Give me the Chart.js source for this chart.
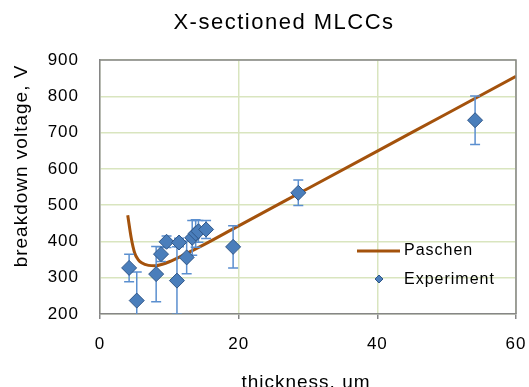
<!DOCTYPE html>
<html>
<head>
<meta charset="utf-8">
<script src="https://cdn.jsdelivr.net/npm/chart.js@4.4.1/dist/chart.umd.min.js"></script>
<style>
  html, body { margin: 0; padding: 0; background: #fff; }
  #wrap { width: 529px; height: 387px; }
</style>
</head>
<body>
<div id="wrap"><canvas id="myChart" width="529" height="387"></canvas></div>
<script>
// Paschen curve
const paschenX = [4.0, 4.5, 5.0, 5.5, 6, 7, 8, 9, 10, 12, 15, 20, 30, 40, 50, 60];
const paschenY = [472, 410, 368, 350, 341, 334, 333, 337, 344, 362, 391, 443, 546, 649, 752, 855];

// measured breakdown points with error bars
const expX = [4.2, 5.3, 8.1, 8.8, 9.6, 11.1, 11.4, 12.5, 13.3, 13.8, 14.2, 15.3, 19.2, 28.6, 54.1];
const expY = [327, 237, 310, 365, 399, 292, 397, 356, 410, 422, 428, 433, 385, 534, 734];
const expErr = [38, 79, 76, 20, 16, 93, 12, 45, 48, 38, 30, 25, 58, 35, 67];

const xTicks = [0, 20, 40, 60];
const yTicks = [200, 300, 400, 500, 600, 700, 800, 900];

const FONT = "'Liberation Sans', Arial, sans-serif";
const lineColor = "#a4520c";
const pointFill = "#4a7ebb";
const pointEdge = "#2f5688";
const barColor = "#5b8fcf";
const gridColor = "#d9e5bf";
const axisColor = "#868686";

var ctx = document.getElementById("myChart");

// error bars, drawn before the diamonds
const errorBars = {
  id: "errorBars",
  beforeDatasetDraw(chart, args) {
    if (args.index !== 0) return;
    const c = chart.ctx;
    const xs = chart.scales.x, ys = chart.scales.y;
    const a = chart.chartArea;
    c.save();
    c.beginPath();
    c.rect(a.left, a.top, a.right - a.left, a.bottom - a.top);
    c.clip();
    c.strokeStyle = barColor;
    c.lineWidth = 1.5;
    for (let i = 0; i < expX.length; i++) {
      const px = xs.getPixelForValue(expX[i]);
      const top = ys.getPixelForValue(expY[i] + expErr[i]);
      const bot = ys.getPixelForValue(expY[i] - expErr[i]);
      c.beginPath();
      c.moveTo(px, top); c.lineTo(px, bot);
      c.moveTo(px - 5, top); c.lineTo(px + 5, top);
      c.moveTo(px - 5, bot); c.lineTo(px + 5, bot);
      c.stroke();
    }
    c.restore();
  }
};

// title, frame, axis titles and the in-plot legend
const decorations = {
  id: "decorations",
  beforeDraw(chart) {
    chart.ctx.letterSpacing = "1px";
  },
  afterDraw(chart) {
    const c = chart.ctx;
    const a = chart.chartArea;
    c.save();
    c.strokeStyle = axisColor;
    c.lineWidth = 1.5;
    c.beginPath();
    c.moveTo(a.left, a.top); c.lineTo(a.right, a.top); c.lineTo(a.right, a.bottom);
    c.stroke();

    c.fillStyle = "#000";
    c.textAlign = "center";
    c.textBaseline = "middle";
    c.letterSpacing = "1.5px";
    c.font = "22px " + FONT;
    c.fillText("X-sectioned MLCCs", 284, 23);
    c.letterSpacing = "1px";

    c.font = "19px " + FONT;
    c.textBaseline = "alphabetic";
    c.fillText("thickness, um", 306, 388);

    c.save();
    c.translate(22, 166);
    c.rotate(-Math.PI / 2);
    c.font = "19px " + FONT;
    c.textBaseline = "middle";
    c.fillText("breakdown voltage, V", 0, 0);
    c.restore();

    // legend
    c.strokeStyle = lineColor;
    c.lineWidth = 3;
    c.beginPath();
    c.moveTo(357, 251); c.lineTo(400, 251);
    c.stroke();
    c.fillStyle = pointFill;
    c.strokeStyle = pointEdge;
    c.lineWidth = 1;
    c.beginPath();
    c.moveTo(375, 279); c.lineTo(379, 275); c.lineTo(383, 279); c.lineTo(379, 283);
    c.closePath();
    c.fill(); c.stroke();
    c.fillStyle = "#000";
    c.font = "16px " + FONT;
    c.textAlign = "left";
    c.textBaseline = "middle";
    c.fillText("Paschen", 404, 251);
    c.fillText("Experiment", 404, 280);
    c.restore();
    c.letterSpacing = "0px";
  }
};

var myChart = new Chart(ctx, {
  type: "scatter",
  data: {
    datasets: [
      {
        label: "Experiment",
        data: expX.map((x, i) => ({ x: x, y: expY[i] })),
        pointStyle: "rectRot",
        pointRadius: 7.5,
        pointBackgroundColor: pointFill,
        pointBorderColor: pointEdge,
        pointBorderWidth: 1,
        showLine: false,
      },
      {
        label: "Paschen",
        data: paschenX.map((x, i) => ({ x: x, y: paschenY[i] })),
        showLine: true,
        borderColor: lineColor,
        borderWidth: 3,
        pointRadius: 0,
        cubicInterpolationMode: "monotone",
        fill: false,
      },
    ],
  },
  options: {
    responsive: false,
    animation: false,
    layout: { padding: { left: 0, right: 13, top: 60, bottom: 0 } },
    plugins: {
      legend: { display: false },
      tooltip: { enabled: false },
      title: { display: false },
    },
    scales: {
      x: {
        type: "linear",
        min: 0,
        max: 60,
        afterFit: (s) => { s.height = 73; s.paddingLeft = 0; s.paddingRight = 0; },
        afterBuildTicks: (s) => { s.ticks = xTicks.map((v) => ({ value: v })); },
        grid: { color: gridColor, lineWidth: 1.5, tickColor: axisColor, tickLength: 5 },
        border: { color: axisColor, width: 1.5 },
        ticks: { color: "#000", font: { family: FONT, size: 17 }, padding: 15, maxRotation: 0 },
      },
      y: {
        min: 200,
        max: 900,
        afterFit: (s) => { s.width = 100; s.paddingTop = 0; s.paddingBottom = 0; },
        afterBuildTicks: (s) => { s.ticks = yTicks.map((v) => ({ value: v })); },
        grid: { color: gridColor, lineWidth: 1.5, drawTicks: false },
        border: { color: axisColor, width: 1.5 },
        ticks: { color: "#000", font: { family: FONT, size: 17 }, padding: 21 },
      },
    },
  },
  plugins: [errorBars, decorations],
});
</script>
</body>
</html>
